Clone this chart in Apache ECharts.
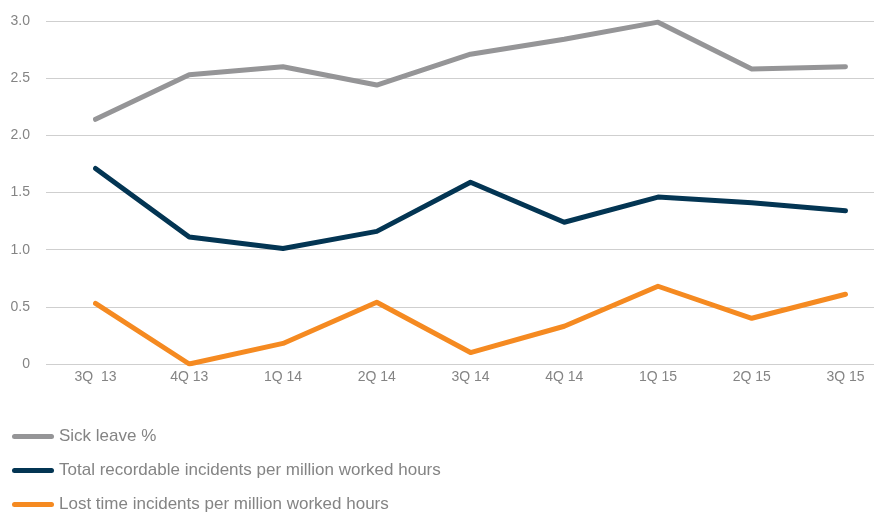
<!DOCTYPE html>
<html>
<head>
<meta charset="utf-8">
<script src="https://cdn.jsdelivr.net/npm/echarts@6/dist/echarts.min.js"></script>
<style>
  html, body { margin: 0; padding: 0; background: #fff; }
  #main { width: 874px; height: 513px; }
</style>
</head>
<body>
<div id="main"></div>
<script>
const quarters = ['3Q  13', '4Q 13', '1Q 14', '2Q 14', '3Q 14', '4Q 14', '1Q 15', '2Q 15', '3Q 15'];
const sickLeave = [2.14, 2.53, 2.60, 2.44, 2.71, 2.84, 2.99, 2.58, 2.60];
const totalRecordable = [1.71, 1.11, 1.01, 1.16, 1.59, 1.24, 1.46, 1.41, 1.34];
const lostTime = [0.53, 0.00, 0.18, 0.54, 0.10, 0.33, 0.68, 0.40, 0.61];

const labelColor = '#848484';
const font = 'Liberation Sans, Arial, sans-serif';
const capsule = 'path://M2.5,0 L39.5,0 A2.5,2.5 0 0 1 39.5,5 L2.5,5 A2.5,2.5 0 0 1 2.5,0 Z';

const chart = echarts.init(document.getElementById('main'), null, { renderer: 'canvas' });

function lineSeries(name, data, color) {
  return {
    name: name,
    type: 'line',
    xAxisIndex: 1,
    yAxisIndex: 1,
    data: data,
    showSymbol: false,
    symbol: 'none',
    animation: false,
    lineStyle: { color: color, width: 5, cap: 'round', join: 'round' },
    itemStyle: { color: color }
  };
}

const option = {
  backgroundColor: '#fff',
  animation: false,
  textStyle: { fontFamily: font },
  grid: [
    // background grid: gridlines + y labels span full width
    { left: 46, right: 0, top: 21, bottom: 149 },
    // data grid: first/last quarter sit inside
    { left: 95.5, right: 28.5, top: 21, bottom: 149 }
  ],
  xAxis: [
    { gridIndex: 0, type: 'value', min: 0, max: 1, show: false },
    {
      gridIndex: 1, type: 'category', data: quarters, boundaryGap: false,
      axisLine: { show: false }, axisTick: { show: false },
      axisLabel: { color: labelColor, fontSize: 14, margin: 6, fontFamily: font }
    }
  ],
  yAxis: [
    {
      gridIndex: 0, type: 'value', min: 0, max: 3, interval: 0.5,
      axisLine: { show: false }, axisTick: { show: false },
      splitLine: { lineStyle: { color: '#cfcfcf', width: 1 } },
      axisLabel: {
        color: labelColor, fontSize: 14, margin: 16, fontFamily: font,
        formatter: v => v === 0 ? '0' : v.toFixed(1)
      }
    },
    { gridIndex: 1, type: 'value', min: 0, max: 3, show: false }
  ],
  legend: {
    orient: 'vertical',
    left: 7,
    top: 423,
    height: 150,
    itemWidth: 42,
    itemHeight: 5,
    itemGap: 17,
    icon: capsule,
    textStyle: { color: labelColor, fontSize: 17, fontFamily: font },
    data: [
      'Sick leave %',
      'Total recordable incidents per million worked hours',
      'Lost time incidents per million worked hours'
    ]
  },
  series: [
    lineSeries('Sick leave %', sickLeave, '#959597'),
    lineSeries('Total recordable incidents per million worked hours', totalRecordable, '#033553'),
    lineSeries('Lost time incidents per million worked hours', lostTime, '#f58a21')
  ]
};

chart.setOption(option);
</script>
</body>
</html>
